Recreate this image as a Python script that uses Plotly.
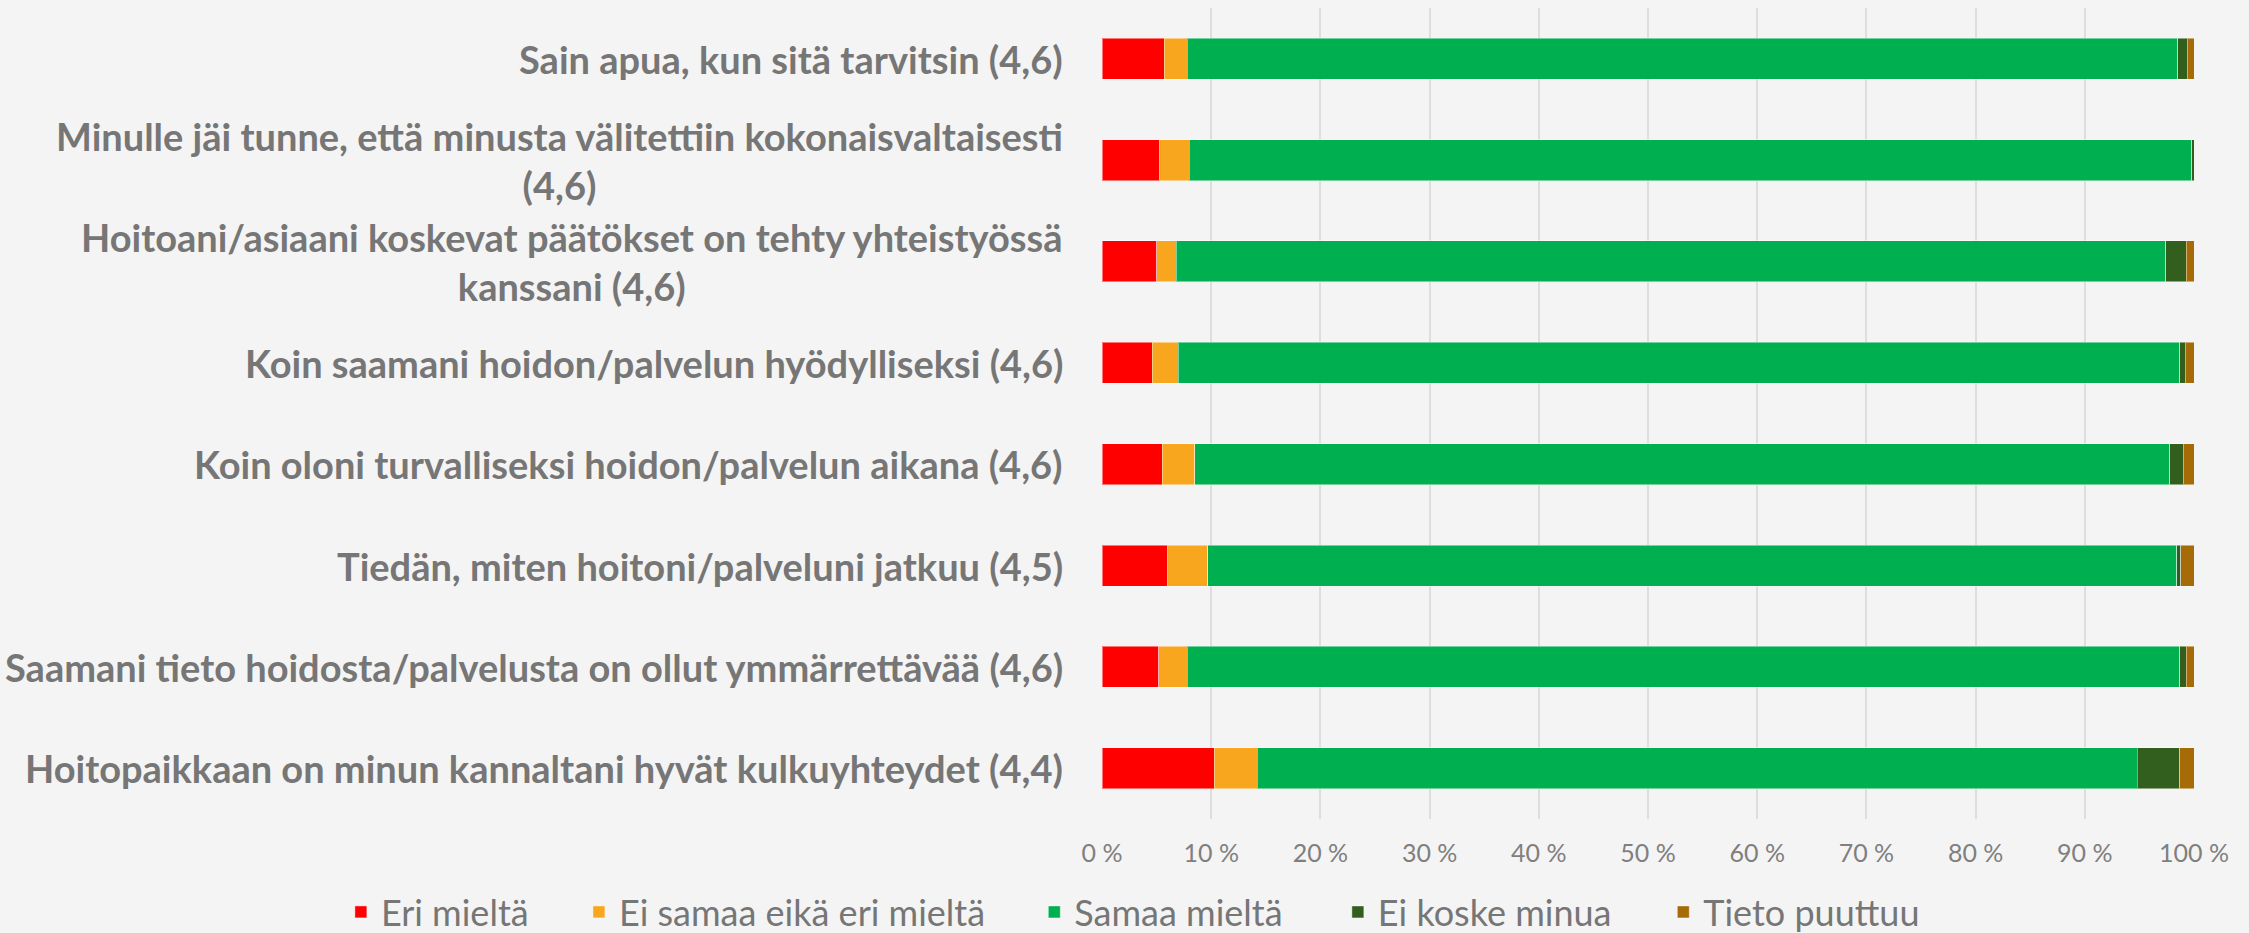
import plotly.graph_objects as go

categories = [
    "Sain apua, kun sitä tarvitsin (4,6)",
    "Minulle jäi tunne, että minusta välitettiin kokonaisvaltaisesti<br>(4,6)",
    "Hoitoani/asiaani koskevat päätökset on tehty yhteistyössä<br>kanssani (4,6)",
    "Koin saamani hoidon/palvelun hyödylliseksi (4,6)",
    "Koin oloni turvalliseksi hoidon/palvelun aikana (4,6)",
    "Tiedän, miten hoitoni/palveluni jatkuu (4,5)",
    "Saamani tieto hoidosta/palvelusta on ollut ymmärrettävää (4,6)",
    "Hoitopaikkaan on minun kannaltani hyvät kulkuyhteydet (4,4)",
]

series_names = ["Eri mieltä", "Ei samaa eikä eri mieltä", "Samaa mieltä", "Ei koske minua", "Tieto puuttuu"]

eri_mielta = [5.7, 5.3, 5.0, 4.6, 5.5, 6.0, 5.2, 10.3]
ei_samaa_eika_eri = [2.1, 2.7, 1.8, 2.4, 3.0, 3.7, 2.6, 3.9]
samaa_mielta = [90.7, 91.8, 90.6, 91.7, 89.3, 88.7, 90.9, 80.6]
ei_koske_minua = [0.9, 0.2, 1.9, 0.5, 1.2, 0.4, 0.6, 3.9]
tieto_puuttuu = [0.6, 0.0, 0.7, 0.8, 1.0, 1.2, 0.7, 1.3]

series_values = [eri_mielta, ei_samaa_eika_eri, samaa_mielta, ei_koske_minua, tieto_puuttuu]
colors = ["#FF0000", "#F9A61F", "#00B050", "#325F1E", "#A66A06"]

tick_values = [0, 10, 20, 30, 40, 50, 60, 70, 80, 90, 100]
tick_labels = ["0 %", "10 %", "20 %", "30 %", "40 %", "50 %", "60 %", "70 %", "80 %", "90 %", "100 %"]

# horizontal positions (paper fraction) of each legend entry
legend_x = [-0.697, -0.479, -0.062, 0.216, 0.514]

LABEL_FONT = "Lato"
GRAY = "#767676"

fig = go.Figure()
legend_names = ["legend", "legend2", "legend3", "legend4", "legend5"]
for name, vals, col, lg in zip(series_names, series_values, colors, legend_names):
    fig.add_trace(go.Bar(
        name=name,
        y=categories,
        x=vals,
        orientation="h",
        legend=lg,
        marker=dict(color=col, line=dict(color="rgba(255,255,255,0.45)", width=1)),
        hoverinfo="name+x",
    ))

for cat in categories:
    fig.add_annotation(
        xref="paper", yref="y", x=0, y=cat,
        xanchor="right", yanchor="middle", xshift=-37,
        text=cat, showarrow=False, align="center",
        font=dict(family=LABEL_FONT, size=38, color=GRAY, weight="bold"),
    )

legend_common = dict(
    orientation="h",
    xref="paper", yref="container",
    xanchor="left",
    y=0.0225, yanchor="middle",
    font=dict(family=LABEL_FONT, size=36, color=GRAY),
    bgcolor="rgba(0,0,0,0)",
)
layout_legends = {}
for lg, lx in zip(legend_names, legend_x):
    layout_legends[lg] = dict(legend_common, x=lx)

fig.update_layout(
    width=2249, height=933,
    barmode="stack",
    bargap=0.596,
    paper_bgcolor="#F4F4F4",
    plot_bgcolor="#F4F4F4",
    margin=dict(l=1102, r=55, t=8, b=114, pad=0, autoexpand=False),
    showlegend=True,
    xaxis=dict(
        range=[0, 100],
        tickvals=tick_values,
        ticktext=tick_labels,
        showgrid=True,
        gridcolor="#DEDEDE",
        gridwidth=1.5,
        zeroline=False,
        showline=False,
        ticks="",
        ticklabelstandoff=17,
        tickfont=dict(family=LABEL_FONT, size=25, color="#7F7F7F"),
        fixedrange=True,
    ),
    yaxis=dict(
        autorange="reversed",
        showticklabels=False,
        showgrid=False,
        zeroline=False,
        showline=False,
        ticks="",
        fixedrange=True,
    ),
    **layout_legends,
)

fig.write_html(
    "out.html",
    config={"displayModeBar": False},
    post_script="document.body.style.margin='0';document.body.style.overflow='hidden';",
)
